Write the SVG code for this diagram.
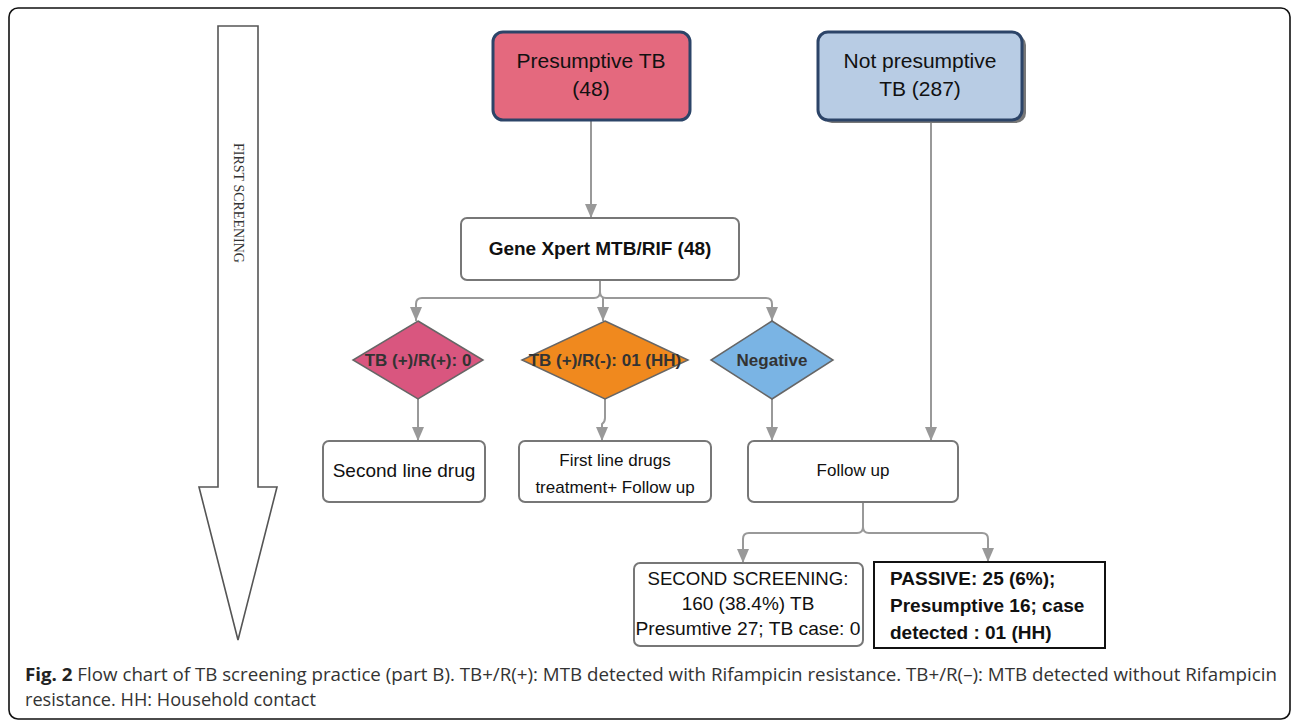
<svg xmlns="http://www.w3.org/2000/svg" width="1292" height="722" viewBox="0 0 1292 722">
<defs>
<marker id="ah" viewBox="0 0 14 12" refX="14" refY="6" markerWidth="14" markerHeight="12" markerUnits="userSpaceOnUse" orient="auto">
<path d="M0,0 L14,6 L0,12 Z" fill="#999"/>
</marker>
<style>
.con{fill:none;stroke:#999;stroke-width:2}
.box{fill:#fff;stroke:#777;stroke-width:2}
.t{font-family:"Liberation Sans",Arial,sans-serif;fill:#111;text-anchor:middle}
.l{text-anchor:start}
.b{font-weight:bold}
.dt{font-family:"Liberation Sans",Arial,sans-serif;font-weight:bold;font-size:17px;fill:#333;text-anchor:middle}
.cap{font-family:"Open Sans","Noto Sans",sans-serif;font-size:18px;fill:#333}
</style>
</defs>
<rect x="9" y="8" width="1281" height="711" rx="9" fill="#fff" stroke="#111" stroke-width="1.6"/>

<g id="first-screening">
<path d="M218,26 L258,26 L258,487 L277,487 L238,640 L199,487 L218,487 Z" fill="#fff" stroke="#555" stroke-width="1.6"/>
<text x="238" y="203" transform="rotate(90 238 203)" text-anchor="middle" dominant-baseline="central" font-family="Liberation Serif,serif" font-size="14" fill="#333">FIRST SCREENING</text>
</g>

<g id="connectors">
<path class="con" d="M591,120 L591,218" marker-end="url(#ah)"/>
<path class="con" d="M600,280 L600,292 Q600,298 594,298 L422,298 Q416,298 416,304 L416,321" marker-end="url(#ah)"/>
<path class="con" d="M600,292 Q600,298 606,298 L766,298 Q772,298 772,304 L772,321" marker-end="url(#ah)"/>
<path class="con" d="M603,298 L603,321" marker-end="url(#ah)"/>
<path class="con" d="M418,399 L418,441" marker-end="url(#ah)"/>
<path class="con" d="M605,399 L605,418 Q605,422 602,424 L602,441" marker-end="url(#ah)"/>
<path class="con" d="M772,399 L772,441" marker-end="url(#ah)"/>
<path class="con" d="M931,120 L931,441" marker-end="url(#ah)"/>
<path class="con" d="M863,502 L863,527 Q863,533 857,533 L749,533 Q743,533 743,539 L743,563" marker-end="url(#ah)"/>
<path class="con" d="M863,527 Q863,533 869,533 L982,533 Q988,533 988,539 L988,562" marker-end="url(#ah)"/>
</g>

<g id="presumptive">
<rect x="493" y="32" width="197" height="88" rx="10" fill="#E4697E" stroke="#2C4468" stroke-width="3"/>
<text class="t" x="591" y="68" font-size="21">Presumptive TB</text>
<text class="t" x="591" y="96" font-size="21">(48)</text>
</g>

<g id="not-presumptive">
<rect x="822" y="35" width="204" height="88" rx="10" fill="#777"/>
<rect x="818" y="32" width="204" height="88" rx="10" fill="#B8CCE4" stroke="#2C4468" stroke-width="3"/>
<text class="t" x="920" y="68" font-size="21">Not presumptive</text>
<text class="t" x="920" y="96" font-size="21">TB (287)</text>
</g>

<g id="genexpert">
<rect class="box" x="461" y="218" width="278" height="62" rx="6"/>
<text class="t b" x="600" y="255" font-size="19">Gene Xpert MTB/RIF (48)</text>
</g>

<g id="d-rpos">
<path d="M418,321 L483,360 L418,399 L353,360 Z" fill="#D9567F" stroke="#666" stroke-width="1.5"/>
<text class="dt" x="418" y="366">TB (+)/R(+): 0</text>
</g>

<g id="d-rneg">
<path d="M605,321 L688,360 L605,399 L522,360 Z" fill="#F0891E" stroke="#666" stroke-width="1.5"/>
<text class="dt" x="605" y="366">TB (+)/R(-): 01 (HH)</text>
</g>

<g id="d-negative">
<path d="M772,321 L833,360 L772,399 L711,360 Z" fill="#7AB4E4" stroke="#666" stroke-width="1.5"/>
<text class="dt" x="772" y="366">Negative</text>
</g>

<g id="second-line">
<rect class="box" x="323" y="441" width="162" height="61" rx="6"/>
<text class="t" x="404" y="477" font-size="19">Second line drug</text>
</g>

<g id="first-line">
<rect class="box" x="519" y="441" width="192" height="61" rx="6"/>
<text class="t" x="615" y="466" font-size="17">First line drugs</text>
<text class="t" x="615" y="493" font-size="17">treatment+ Follow up</text>
</g>

<g id="follow-up">
<rect class="box" x="748" y="441" width="210" height="61" rx="6"/>
<text class="t" x="853" y="476" font-size="17">Follow up</text>
</g>

<g id="second-screening">
<rect class="box" x="634" y="563" width="229" height="83" rx="6"/>
<text class="t" x="748" y="585" font-size="19" textLength="201" lengthAdjust="spacingAndGlyphs">SECOND SCREENING:</text>
<text class="t" x="748" y="610" font-size="19">160 (38.4%) TB</text>
<text class="t" x="748" y="635" font-size="19" textLength="225" lengthAdjust="spacingAndGlyphs">Presumtive 27; TB case: 0</text>
</g>

<g id="passive">
<rect x="874" y="562" width="231" height="86" fill="#fff" stroke="#111" stroke-width="2"/>
<text class="t b l" x="890" y="585" font-size="19">PASSIVE: 25 (6%);</text>
<text class="t b l" x="890" y="612" font-size="19">Presumptive 16; case</text>
<text class="t b l" x="890" y="639" font-size="19">detected : 01 (HH)</text>
</g>

<g id="caption">
<text class="cap" x="25" y="681" textLength="1252" lengthAdjust="spacingAndGlyphs"><tspan font-weight="bold" fill="#222">Fig. 2</tspan> Flow chart of TB screening practice (part B). TB+/R(+): MTB detected with Rifampicin resistance. TB+/R(–): MTB detected without Rifampicin</text>
<text class="cap" x="25" y="706" textLength="291" lengthAdjust="spacingAndGlyphs">resistance. HH: Household contact</text>
</g>
</svg>
